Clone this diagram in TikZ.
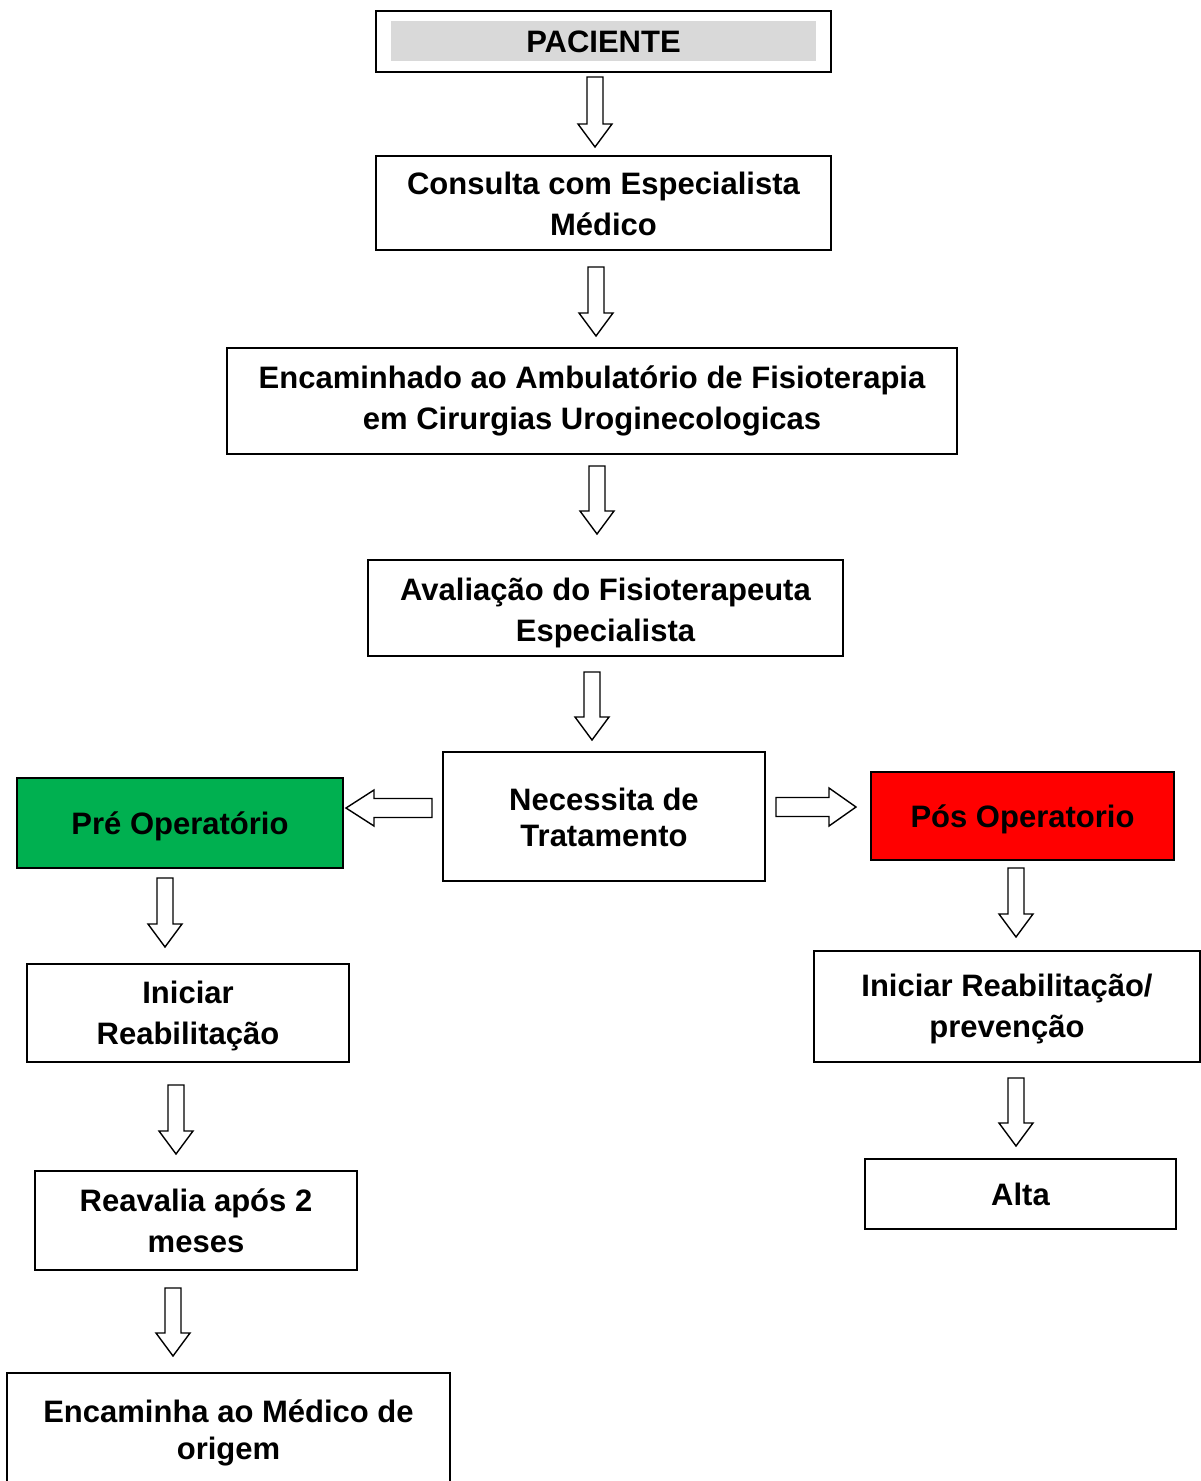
\documentclass[tikz,border=0pt]{standalone}
\usepackage{fontspec}
\setmainfont{Liberation Sans}
\usetikzlibrary{calc}
\definecolor{pacgray}{HTML}{D9D9D9}
\definecolor{pregreen}{HTML}{00B050}
\definecolor{posred}{HTML}{FF0000}
\tikzset{
  box/.style={draw, line width=1.8pt, inner sep=0pt, align=center,
    font=\bfseries\fontsize{31}{41}\selectfont},
  blk/.style={draw, line width=1.4pt, fill=white, line join=miter}
}
\newcommand\shtxt[2]{\raisebox{-#1pt}[\height][\depth]{\begin{tabular}{@{}c@{}}#2\end{tabular}}}
\newcommand\vblock[2]{\draw[blk] let \p1=(#1),\p2=(#2) in
  (\x1-8,\y1) -- (\x1+8,\y1) -- (\x1+8,\y2+23) -- (\x1+17,\y2+23) -- (\x1,\y2)
  -- (\x1-17,\y2+23) -- (\x1-8,\y2+23) -- cycle;}
\newcommand\rblock[2]{\draw[blk] let \p1=(#1),\p2=(#2) in
  (\x1,\y1-9.5) -- (\x1,\y1+9.5) -- (\x2-27,\y1+9.5) -- (\x2-27,\y1+19) -- (\x2,\y1)
  -- (\x2-27,\y1-19) -- (\x2-27,\y1-9.5) -- cycle;}
\newcommand\lblock[2]{\draw[blk] let \p1=(#1),\p2=(#2) in
  (\x1,\y1-9.5) -- (\x1,\y1+9.5) -- (\x2+28,\y1+9.5) -- (\x2+28,\y1+18) -- (\x2,\y1)
  -- (\x2+28,\y1-18) -- (\x2+28,\y1-9.5) -- cycle;}
\begin{document}
\begin{tikzpicture}[x=1pt,y=1pt]
\useasboundingbox (0,0) rectangle (1201,-1481);
\clip (0,0) rectangle (1201,-1481);
\fill[white] (0,0) rectangle (1201,-1481);

\node[box, minimum width=455, minimum height=61,
  path picture={\fill[pacgray] ($(path picture bounding box.south west)+(15,11)$) rectangle ($(path picture bounding box.north east)+(-15,-10)$);}]
  (pac) at (603.5,-41.5) {PACIENTE};
\node[box, minimum width=455, minimum height=94] (cons) at (603.5,-203) {\shtxt{4}{Consulta com Especialista\\Médico}};
\node[box, minimum width=730, minimum height=106] (enc) at (592,-401) {Encaminhado ao Ambulatório de Fisioterapia\\em Cirurgias Uroginecologicas};
\node[box, minimum width=475, minimum height=96] (aval) at (605.5,-608) {\shtxt{5}{Avaliação do Fisioterapeuta\\Especialista}};
\node[box, minimum width=322, minimum height=129, font=\bfseries\fontsize{31}{36}\selectfont] (nec) at (604,-816.5) {\shtxt{5}{Necessita de\\Tratamento}};
\node[box, fill=pregreen, minimum width=326, minimum height=90] (pre) at (180,-823) {\shtxt{3}{Pré Operatório}};
\node[box, fill=posred, minimum width=303, minimum height=88] (pos) at (1022.5,-816) {\shtxt{3}{Pós Operatorio}};
\node[box, minimum width=322, minimum height=98] (ini) at (188,-1013) {\shtxt{3}{Iniciar\\Reabilitação}};
\node[box, minimum width=322, minimum height=99] (rea) at (196,-1220.5) {Reavalia após 2\\meses};
\node[box, minimum width=443, minimum height=113, font=\bfseries\fontsize{31}{37}\selectfont] (encm) at (228.5,-1429.5) {\shtxt{4}{Encaminha ao Médico de\\origem}};
\node[box, minimum width=386, minimum height=111] (inir) at (1007,-1006.5) {\shtxt{2}{Iniciar Reabilitação/\\prevenção}};
\node[box, minimum width=311, minimum height=70] (alta) at (1020.5,-1194) {Alta};

% arrow end points
\coordinate (a1s) at (595,-77);   \coordinate (a1e) at (595,-147);
\coordinate (a2s) at (596,-267);  \coordinate (a2e) at (596,-336);
\coordinate (a3s) at (597,-466);  \coordinate (a3e) at (597,-534);
\coordinate (a4s) at (592,-672);  \coordinate (a4e) at (592,-740);
\coordinate (l1s) at (165,-878);  \coordinate (l1e) at (165,-947);
\coordinate (l2s) at (176,-1085); \coordinate (l2e) at (176,-1154);
\coordinate (l3s) at (173,-1288); \coordinate (l3e) at (173,-1356);
\coordinate (r1s) at (1016,-868); \coordinate (r1e) at (1016,-937);
\coordinate (r2s) at (1016,-1078);\coordinate (r2e) at (1016,-1146);
\coordinate (hls) at (432,-808);  \coordinate (hle) at (346,-808);
\coordinate (hrs) at (776,-807);  \coordinate (hre) at (856,-807);

\vblock{a1s}{a1e}
\vblock{a2s}{a2e}
\vblock{a3s}{a3e}
\vblock{a4s}{a4e}
\vblock{l1s}{l1e}
\vblock{l2s}{l2e}
\vblock{l3s}{l3e}
\vblock{r1s}{r1e}
\vblock{r2s}{r2e}
\lblock{hls}{hle}
\rblock{hrs}{hre}
\end{tikzpicture}
\end{document}
